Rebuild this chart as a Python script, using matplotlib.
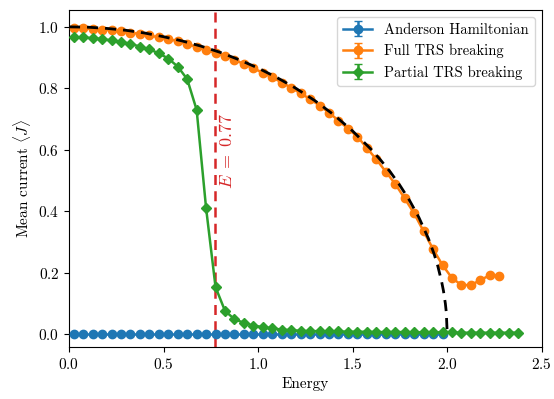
import numpy as np
import matplotlib
matplotlib.use('Agg')
import matplotlib.pyplot as plt

plt.rcParams['font.family'] = 'serif'
plt.rcParams['font.serif'] = ['cmr10', 'DejaVu Serif']
plt.rcParams['mathtext.fontset'] = 'cm'
plt.rcParams['axes.formatter.use_mathtext'] = True
plt.rcParams['font.size'] = 11

# energies (grid step 0.05)
E_anderson = np.arange(40) * 0.05 + 0.025
E_full = np.arange(46) * 0.05 + 0.025
E_partial = np.arange(48) * 0.05 + 0.025

J_anderson = [0.002] * 40

J_full = [0.996, 0.995, 0.993, 0.991, 0.989, 0.986, 0.981, 0.977, 0.972, 0.966,
          0.961, 0.953, 0.944, 0.935, 0.924, 0.916, 0.906, 0.893, 0.879, 0.865,
          0.851, 0.836, 0.819, 0.802, 0.784, 0.765, 0.744, 0.721, 0.695, 0.669,
          0.643, 0.606, 0.569, 0.529, 0.489, 0.442, 0.393, 0.335, 0.277, 0.225,
          0.183, 0.160, 0.160, 0.176, 0.192, 0.190]

J_partial = [0.966, 0.966, 0.963, 0.960, 0.956, 0.951, 0.945, 0.936, 0.927, 0.914,
             0.897, 0.871, 0.830, 0.730, 0.410, 0.153, 0.076, 0.049, 0.037, 0.028,
             0.023, 0.019, 0.015, 0.013, 0.011, 0.010, 0.010, 0.009, 0.009, 0.008,
             0.008, 0.008, 0.007, 0.007, 0.007, 0.007, 0.006, 0.006, 0.006, 0.006,
             0.006, 0.005, 0.005, 0.005, 0.005, 0.005, 0.005, 0.005]

# clean-chain reference curve
E_clean = [0.0, 0.1, 0.2, 0.3, 0.4, 0.5, 0.6, 0.7, 0.8, 0.9, 1.0, 1.1, 1.2, 1.3,
           1.4, 1.5, 1.6, 1.65, 1.7, 1.75, 1.8, 1.85, 1.9, 1.93, 1.95, 1.97,
           1.98, 1.99, 1.995, 2.0]
J_clean = [1.0, 0.999, 0.995, 0.989, 0.980, 0.968, 0.954, 0.937, 0.917, 0.893,
           0.866, 0.835, 0.800, 0.760, 0.714, 0.661, 0.600, 0.565, 0.527, 0.484,
           0.436, 0.380, 0.312, 0.262, 0.222, 0.172, 0.141, 0.100, 0.071, 0.0]

E_mark = 0.77

fig = plt.figure(figsize=(5.54, 3.99), dpi=100)
ax = fig.add_axes([0.1245, 0.130, 0.8535, 0.845])

ax.errorbar(E_anderson, J_anderson, yerr=np.zeros(len(J_anderson)), fmt='-o',
            color='#1f77b4', ms=6, lw=1.8, capsize=3, label='Anderson Hamiltonian', zorder=3)
ax.errorbar(E_full, J_full, yerr=np.zeros(len(J_full)), fmt='-o',
            color='#ff7f0e', ms=6, lw=1.8, capsize=3, label='Full TRS breaking', zorder=3)
ax.errorbar(E_partial, J_partial, yerr=np.zeros(len(J_partial)), fmt='-D',
            color='#2ca02c', ms=5, lw=1.8, capsize=3, label='Partial TRS breaking', zorder=4)

ax.plot(E_clean, J_clean, '--', color='black', lw=2, dashes=(4, 2.5), zorder=5)
ax.axvline(E_mark, color='#d62728', ls='--', lw=1.8, dashes=(4, 2.5), zorder=2)
ax.text(0.835, 0.596, r'$E\;=\;0.77$', color='#d62728', rotation=90,
        ha='center', va='center', fontsize=13)

ax.set_xlim(0, 2.5)
ax.set_ylim(-0.042, 1.055)
ax.set_xticks([0.0, 0.5, 1.0, 1.5, 2.0, 2.5])
ax.set_yticks([0.0, 0.2, 0.4, 0.6, 0.8, 1.0])
ax.set_xlabel('Energy')
ax.set_ylabel(r'Mean current $\langle J\rangle$')
ax.legend(loc='upper right', fontsize=10.5)

fig.savefig('out.png', dpi=100)
